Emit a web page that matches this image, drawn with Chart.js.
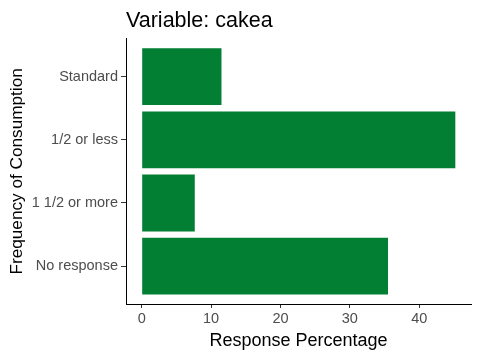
<!DOCTYPE html>
<html>
<head>
<meta charset="utf-8">
<script src="https://cdn.jsdelivr.net/npm/chart.js@4/dist/chart.umd.min.js"></script>
<style>
html,body{margin:0;padding:0;background:#fff;}
#wrap{width:480px;height:360px;}
</style>
</head>
<body>
<div id="wrap"><canvas id="c" width="480" height="360"></canvas></div>
<script>
const categories = ["Standard", "1/2 or less", "1 1/2 or more", "No response"];
const values = [11.5, 45.2, 7.65, 35.5];
const xTicks = [0, 10, 20, 30, 40];
const titleText = "Variable: cakea";
const xTitle = "Response Percentage";
const yTitle = "Frequency of Consumption";

const FONT = "'Liberation Sans', Arial, sans-serif";
const dataMax = Math.max(...values);
const expand = dataMax * 0.05;

new Chart(document.getElementById('c'), {
  type: 'bar',
  data: {
    datasets: [{
      data: values.map((v, i) => ({x: v, y: i})),
      backgroundColor: '#027F33',
      borderWidth: 0,
      barPercentage: 0.9,
      categoryPercentage: 1.0
    }]
  },
  options: {
    indexAxis: 'y',
    responsive: false,
    animation: false,
    devicePixelRatio: 1,
    layout: {padding: {left: 0, right: 9, top: 0, bottom: 0}},
    plugins: {
      legend: {display: false},
      tooltip: {enabled: false},
      title: {
        display: true,
        text: titleText,
        align: 'start',
        fullSize: false,
        color: '#000',
        font: {family: FONT, size: 21.5, weight: 'normal', lineHeight: 1.2},
        padding: {top: 8, bottom: 5}
      }
    },
    scales: {
      x: {
        type: 'linear',
        min: -expand,
        max: dataMax + expand,
        afterBuildTicks: s => { s.ticks = xTicks.map(v => ({value: v})); },
        afterFit: s => { s.height = 56; },
        grid: {drawOnChartArea: false, drawTicks: true, tickLength: 4, color: '#333333'},
        border: {display: true, color: '#000', width: 1},
        ticks: {color: '#4D4D4D', font: {family: FONT, size: 14.5}, padding: 2, maxRotation: 0},
        title: {display: true, text: xTitle, color: '#000', font: {family: FONT, size: 18, lineHeight: 1.2}, padding: {top: 0, bottom: 8}}
      },
      y: {
        type: 'linear',
        reverse: true,
        offset: false,
        min: -0.6,
        max: categories.length - 1 + 0.6,
        afterBuildTicks: s => { s.ticks = categories.map((c, i) => ({value: i})); },
        afterFit: s => { s.width = 126; },
        grid: {offset: false, drawOnChartArea: false, drawTicks: true, tickLength: 5, color: '#333333'},
        border: {display: true, color: '#000', width: 1},
        ticks: {color: '#4D4D4D', font: {family: FONT, size: 14.5}, padding: 3, callback: v => categories[v]},
        title: {display: true, text: yTitle, color: '#000', font: {family: FONT, size: 17.2, lineHeight: 1.2}, padding: {top: 7, bottom: 0}}
      }
    }
  }
});
</script>
</body>
</html>
